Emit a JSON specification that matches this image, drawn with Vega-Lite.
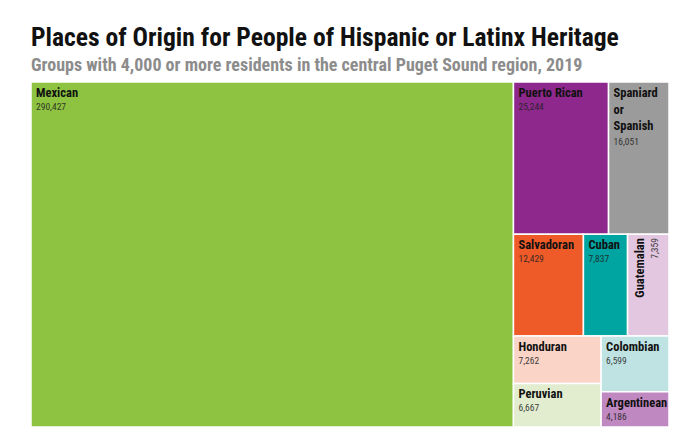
{
  "$schema": "https://vega.github.io/schema/vega-lite/v6.json",
  "width": 638,
  "height": 345,
  "autosize": {"type": "none"},
  "padding": {"left": 31, "top": 82, "right": 9, "bottom": 10},
  "background": "white",
  "title": {
    "text": "Places of Origin for People of Hispanic or Latinx Heritage",
    "subtitle": "Groups with 4,000 or more residents in the central Puget Sound region, 2019",
    "anchor": "start",
    "frame": "group",
    "font": "Roboto Condensed, Liberation Sans Narrow, DejaVu Sans Condensed, Roboto",
    "fontSize": 25.6,
    "fontWeight": "bold",
    "color": "#111111",
    "subtitleFont": "Roboto Condensed, Liberation Sans Narrow, DejaVu Sans Condensed, Roboto",
    "subtitleFontSize": 18,
    "subtitleFontWeight": "bold",
    "subtitleColor": "#8c8c8c",
    "subtitlePadding": 6,
    "offset": 6
  },
  "config": {"view": {"stroke": null}},
  "data": {
    "values": [
      {"name": "Mexican", "value": 290427, "level1": "A", "level2": "A", "level3": "A", "order": 1},
      {"name": "Puerto Rican", "value": 25244, "level1": "B", "level2": "B1", "level3": "B1a", "order": 2},
      {"name": "Spaniard or Spanish", "value": 16051, "level1": "B", "level2": "B1", "level3": "B1b", "order": 3},
      {"name": "Salvadoran", "value": 12429, "level1": "B", "level2": "B2", "level3": "B2a", "order": 4},
      {"name": "Cuban", "value": 7837, "level1": "B", "level2": "B2", "level3": "B2b", "order": 5},
      {"name": "Guatemalan", "value": 7359, "level1": "B", "level2": "B2", "level3": "B2c", "order": 6},
      {"name": "Honduran", "value": 7262, "level1": "B", "level2": "B3", "level3": "B3a", "order": 7},
      {"name": "Peruvian", "value": 6667, "level1": "B", "level2": "B3", "level3": "B3a", "order": 8},
      {"name": "Colombian", "value": 6599, "level1": "B", "level2": "B3", "level3": "B3b", "order": 9},
      {"name": "Argentinean", "value": 4186, "level1": "B", "level2": "B3", "level3": "B3b", "order": 10}
    ]
  },
  "transform": [
    {"joinaggregate": [{"op": "sum", "field": "value", "as": "total"}]},
    {"window": [{"op": "sum", "field": "value", "as": "cum"}], "sort": [{"field": "order"}], "frame": [null, 0]},
    {"calculate": "datum.cum - datum.value", "as": "start"},
    {"joinaggregate": [{"op": "sum", "field": "value", "as": "s1"}, {"op": "min", "field": "start", "as": "b1"}], "groupby": ["level1"]},
    {"joinaggregate": [{"op": "sum", "field": "value", "as": "s2"}, {"op": "min", "field": "start", "as": "b2"}], "groupby": ["level2"]},
    {"joinaggregate": [{"op": "sum", "field": "value", "as": "s3"}, {"op": "min", "field": "start", "as": "b3"}], "groupby": ["level3"]},
    {"calculate": "datum.b1 / datum.total", "as": "xa"},
    {"calculate": "datum.s1 / datum.total", "as": "wa"},
    {"calculate": "(datum.b2 - datum.b1) / datum.s1", "as": "ya"},
    {"calculate": "datum.s2 / datum.s1", "as": "ha"},
    {"calculate": "datum.xa + datum.wa * (datum.b3 - datum.b2) / datum.s2", "as": "x0"},
    {"calculate": "datum.x0 + datum.wa * datum.s3 / datum.s2", "as": "x1"},
    {"calculate": "datum.ya + datum.ha * (datum.start - datum.b3) / datum.s3", "as": "y0"},
    {"calculate": "datum.y0 + datum.ha * datum.value / datum.s3", "as": "y1"}
  ],
  "encoding": {
    "x": {"field": "x0", "type": "quantitative", "scale": {"domain": [0, 1], "nice": false, "zero": false}, "axis": null},
    "y": {"field": "y0", "type": "quantitative", "scale": {"domain": [0, 1], "nice": false, "zero": false, "reverse": true}, "axis": null}
  },
  "layer": [
    {
      "mark": {"type": "rect", "stroke": "white", "strokeWidth": 1.5},
      "encoding": {
        "x2": {"field": "x1"},
        "y2": {"field": "y1"},
        "color": {
          "field": "name",
          "type": "nominal",
          "legend": null,
          "scale": {
            "domain": ["Mexican", "Puerto Rican", "Spaniard or Spanish", "Salvadoran", "Cuban", "Guatemalan", "Honduran", "Peruvian", "Colombian", "Argentinean"],
            "range": ["#8dc340", "#8e288d", "#9b9b9b", "#ef5a29", "#00a4a1", "#e3c7e0", "#f9d4c7", "#e2edd0", "#bfe3e3", "#c088c0"]
          }
        }
      }
    },
    {
      "transform": [{"filter": "datum.name != 'Guatemalan' && datum.name != 'Spaniard or Spanish'"}],
      "mark": {"type": "text", "align": "left", "baseline": "top", "dx": 5, "dy": 5, "font": "Roboto Condensed, Liberation Sans Narrow, DejaVu Sans Condensed, Roboto", "fontSize": 12.5, "fontWeight": "bold", "color": "#111111"},
      "encoding": {"text": {"field": "name"}}
    },
    {
      "transform": [{"filter": "datum.name != 'Guatemalan' && datum.name != 'Spaniard or Spanish'"}],
      "mark": {"type": "text", "align": "left", "baseline": "top", "dx": 5, "dy": 20, "font": "Roboto Condensed, Liberation Sans Narrow, DejaVu Sans Condensed, Roboto", "fontSize": 9.5, "color": "#222222", "opacity": 0.85},
      "encoding": {"text": {"field": "value", "type": "quantitative", "format": ","}}
    },
    {
      "transform": [{"filter": "datum.name == 'Spaniard or Spanish'"}],
      "mark": {"type": "text", "align": "left", "baseline": "top", "dx": 5, "dy": 5, "lineBreak": " ", "lineHeight": 16.5, "font": "Roboto Condensed, Liberation Sans Narrow, DejaVu Sans Condensed, Roboto", "fontSize": 12.5, "fontWeight": "bold", "color": "#111111"},
      "encoding": {"text": {"field": "name"}}
    },
    {
      "transform": [{"filter": "datum.name == 'Spaniard or Spanish'"}],
      "mark": {"type": "text", "align": "left", "baseline": "top", "dx": 5, "dy": 55, "font": "Roboto Condensed, Liberation Sans Narrow, DejaVu Sans Condensed, Roboto", "fontSize": 9.5, "color": "#222222", "opacity": 0.85},
      "encoding": {"text": {"field": "value", "type": "quantitative", "format": ","}}
    },
    {
      "transform": [{"filter": "datum.name == 'Guatemalan'"}],
      "mark": {"type": "text", "angle": 270, "align": "right", "baseline": "top", "dx": -4, "dy": 6, "font": "Roboto Condensed, Liberation Sans Narrow, DejaVu Sans Condensed, Roboto", "fontSize": 12.5, "fontWeight": "bold", "color": "#111111"},
      "encoding": {"text": {"field": "name"}}
    },
    {
      "transform": [{"filter": "datum.name == 'Guatemalan'"}],
      "mark": {"type": "text", "angle": 270, "align": "right", "baseline": "top", "dx": -4, "dy": 22, "font": "Roboto Condensed, Liberation Sans Narrow, DejaVu Sans Condensed, Roboto", "fontSize": 9.5, "color": "#222222", "opacity": 0.85},
      "encoding": {"text": {"field": "value", "type": "quantitative", "format": ","}}
    }
  ]
}
